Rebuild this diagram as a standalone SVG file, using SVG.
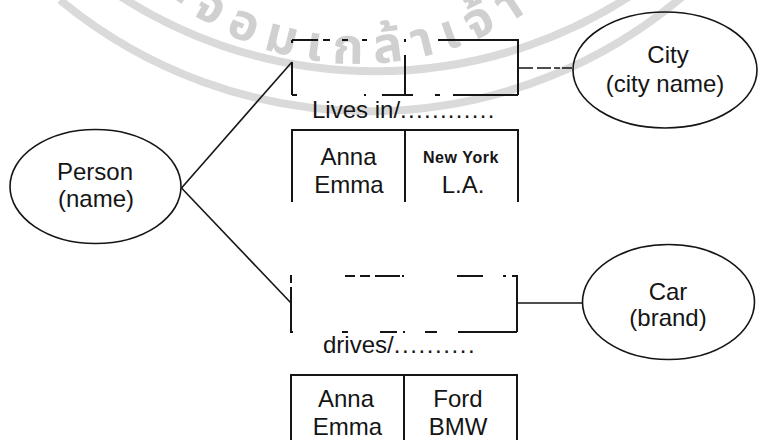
<svg xmlns="http://www.w3.org/2000/svg" width="758" height="440" viewBox="0 0 758 440">
<style>
.t{font-family:"Liberation Sans",Arial,sans-serif;font-size:24px;fill:#151515}
.m{text-anchor:middle}
.s{font-size:16px;letter-spacing:0.6px;font-weight:bold}
.e{fill:none;stroke:#151515;stroke-width:1.6}
.b{fill:none;stroke:#151515;stroke-width:2}
.c{fill:none;stroke:#151515;stroke-width:1.6}
.wm{fill:none;stroke:#dadada;stroke-width:8}
.wt{font-family:"Noto Sans Thai","Noto Sans","DejaVu Sans",sans-serif;font-size:50px;font-weight:bold;fill:#d0d0d0;letter-spacing:11px}
</style>
<defs>
<path id="arcT" d="M150,-20 A300,300 0 0 0 620,-90"/>
</defs>
<rect width="758" height="440" fill="#fff"/>
<g id="watermark">
<path class="wm" d="M60,-10 A485,485 0 0 0 690,-20" transform="translate(0,10)"/>
<path class="wm" d="M90,-20 A470,470 0 0 0 660,-20" transform="translate(0,-5)"/>
<text class="wt"><textPath href="#arcT" startOffset="24">ะจอมเกล้าเจ้า</textPath></text>
</g>
<g id="connectors">
<path class="c" d="M181.5,188 L292,62"/>
<path class="c" d="M181.5,188 L291,303"/>
<path class="c" d="M518,68 H572" stroke-dasharray="15 4 14 3 6 2"/>
<path class="c" d="M517,303 H583"/>
</g>
<g id="person">
<ellipse class="e" cx="95.5" cy="186.5" rx="85.5" ry="57"/>
<text class="t m" x="95" y="180">Person</text>
<text class="t m" x="96" y="207">(name)</text>
</g>
<g id="city">
<ellipse class="e" cx="665" cy="70" rx="92" ry="58"/>
<text class="t m" x="668" y="63">City</text>
<text class="t m" x="665" y="92">(city name)</text>
</g>
<g id="car">
<ellipse class="e" cx="668.5" cy="302" rx="86" ry="57.5"/>
<text class="t m" x="668" y="300">Car</text>
<text class="t m" x="668" y="326">(brand)</text>
</g>
<g id="lives-in">
<path class="b" d="M292,40 H318 M323,40 H330 M342,40 H348 M362,40 H367 M404,40 H406 M438,40 H518 V95 M292,95 H297 M364,95 H366 M382,95 H413 M435,95 H440 M453,95 H518 M292,40 V43 M292,62 V95 M405,40 V42 M405,55 V95"/>
<text class="t" x="312" y="118">Lives in/<tspan letter-spacing="1.3">............</tspan></text>
<path class="b" d="M292,202 V130 H518 V202 M405,130 V202"/>
<text class="t m" x="348.5" y="165">Anna</text>
<text class="t m" x="349" y="193">Emma</text>
<text class="t m s" x="461" y="163">New York</text>
<text class="t m" x="463" y="193">L.A.</text>
</g>
<g id="drives">
<path class="b" d="M290,276 H292 M345,276 H355 M360,276 H370 M375,276 H400 M402,276 H404 M457,276 H483 M503,276 H506 M512,276 H517 V332 M290,332 H293 M342,332 H348 M380,332 H397 M403,332 H405 M425,332 H437 M458,332 H517 M291,277 V283 M291,287 V332"/>
<text class="t" x="323" y="353">drives/<tspan letter-spacing="1.6">..........</tspan></text>
<path class="b" d="M291,440 V375 H517 V440 M404,375 V440"/>
<text class="t m" x="346" y="407">Anna</text>
<text class="t m" x="347.5" y="435">Emma</text>
<text class="t m" x="458" y="407">Ford</text>
<text class="t m" x="458" y="435">BMW</text>
</g>
</svg>
